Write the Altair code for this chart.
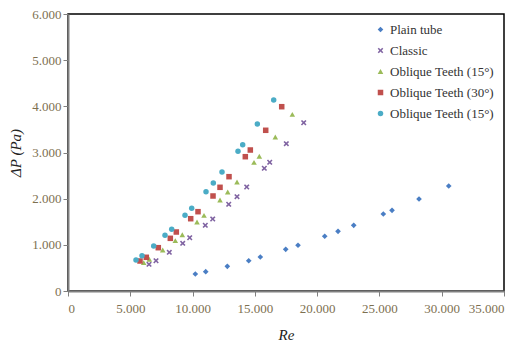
import altair as alt
import pandas as pd

# ---- data ----
plain_re = [10220, 11055, 12789, 14507, 15438, 17477, 18464, 20608, 21676, 22936, 25312, 26011, 28178, 30563]
plain_dp = [368, 418, 535, 656, 736, 903, 990, 1185, 1293, 1423, 1668, 1748, 1993, 2274]

classic_re = [6503, 7065, 8132, 9208, 9770, 11022, 11617, 12901, 13567, 14346, 15759, 16192, 17525, 18922]
classic_dp = [578, 656, 838, 1033, 1154, 1423, 1560, 1878, 2043, 2253, 2658, 2788, 3191, 3645]

ot15_re = [6077, 6527, 7603, 8614, 9176, 10356, 10918, 12203, 12821, 13567, 14932, 15358, 16642, 18007]
ot15_dp = [613, 687, 888, 1090, 1219, 1495, 1640, 1971, 2144, 2361, 2788, 2918, 3336, 3827]

ot30_re = [5780, 6286, 7249, 8213, 8694, 9850, 10436, 11641, 12203, 12925, 14234, 14635, 15871, 17156]
ot30_dp = [650, 730, 938, 1141, 1278, 1566, 1718, 2058, 2246, 2476, 2909, 3054, 3481, 3992]

ot15b_re = [5459, 5941, 6880, 7787, 8325, 9393, 9931, 11079, 11665, 12363, 13648, 14025, 15197, 16513]
ot15b_dp = [671, 765, 975, 1206, 1336, 1640, 1791, 2151, 2339, 2578, 3026, 3169, 3617, 4137]

series_keys = ["s1", "s2", "s3", "s4", "s5"]
series_labels = ["Plain tube", "Classic", "Oblique Teeth (15°)", "Oblique Teeth (30°)", "Oblique Teeth (15°)"]
series_colors = ["#4A7EC4", "#8064A2", "#9BBB59", "#C0504D", "#4BACC6"]
x_path = "M-1,-0.6L-0.6,-1L0,-0.4L0.6,-1L1,-0.6L0.4,0L1,0.6L0.6,1L0,0.4L-0.6,1L-1,0.6L-0.4,0Z"
series_shapes = ["diamond", x_path, "triangle-up", "square", "circle"]
series_sizes = [32, 30, 52, 68, 90]

x_ticks = [0, 5000, 10000, 15000, 20000, 25000, 30000, 35000]
y_ticks = [0, 1000, 2000, 3000, 4000, 5000, 6000]

rows = []
for key, xs, ys in zip(series_keys,
                       [plain_re, classic_re, ot15_re, ot30_re, ot15b_re],
                       [plain_dp, classic_dp, ot15_dp, ot30_dp, ot15b_dp]):
    for a, b in zip(xs, ys):
        rows.append({"series": key, "Re": a, "dP": b})
df = pd.DataFrame(rows)

label_map = "{" + ",".join(f"'{k}':'{l}'" for k, l in zip(series_keys, series_labels)) + "}"
num_fmt = "replace(format(datum.value, ',d'), ',', '.')"

serif = "'Liberation Serif', 'DejaVu Serif', serif"
tick_color = "#7d7050"

chart = alt.Chart(df).mark_point(filled=True, opacity=1).encode(
    x=alt.X("Re:Q", scale=alt.Scale(domain=[0, 35000], nice=False),
            axis=alt.Axis(values=x_ticks, title="Re", labelExpr=num_fmt, grid=False,
                          labelPadding=6,
                          titleFontStyle="italic", titleFont=serif, titleFontSize=15,
                          titleFontWeight="normal", titlePadding=12)),
    y=alt.Y("dP:Q", scale=alt.Scale(domain=[0, 6000], nice=False),
            axis=alt.Axis(values=y_ticks, title="ΔP (Pa)", labelExpr=num_fmt, grid=False,
                          titleFontStyle="italic", titleFont=serif, titleFontSize=15,
                          titleFontWeight="normal", titlePadding=8)),
    color=alt.Color("series:N", scale=alt.Scale(domain=series_keys, range=series_colors),
                    legend=alt.Legend(title=None, orient="none", legendX=306, legendY=9,
                                      labelExpr=f"{label_map}[datum.value]",
                                      labelFont=serif, labelFontSize=13,
                                      labelColor="#333333", symbolSize=30, rowPadding=7,
                                      labelOffset=3)),
    shape=alt.Shape("series:N", scale=alt.Scale(domain=series_keys, range=series_shapes), legend=None),
    size=alt.Size("series:N", scale=alt.Scale(domain=series_keys, range=series_sizes), legend=None),
).properties(
    width=436, height=277,
    autosize=alt.AutoSizeParams(type="none"),
    padding={"left": 68, "top": 14, "right": 17, "bottom": 50},
).configure_view(
    stroke="#000000", strokeWidth=1.5
).configure_axis(
    domainColor="#808080", domainWidth=2, tickColor="#808080", tickSize=5,
    labelFont=serif, labelFontSize=13, labelColor=tick_color,
    titleColor="#222222"
).configure_legend(
    symbolStrokeWidth=0
)

chart.save("out.html", embed_options={"renderer": "svg", "actions": False})
